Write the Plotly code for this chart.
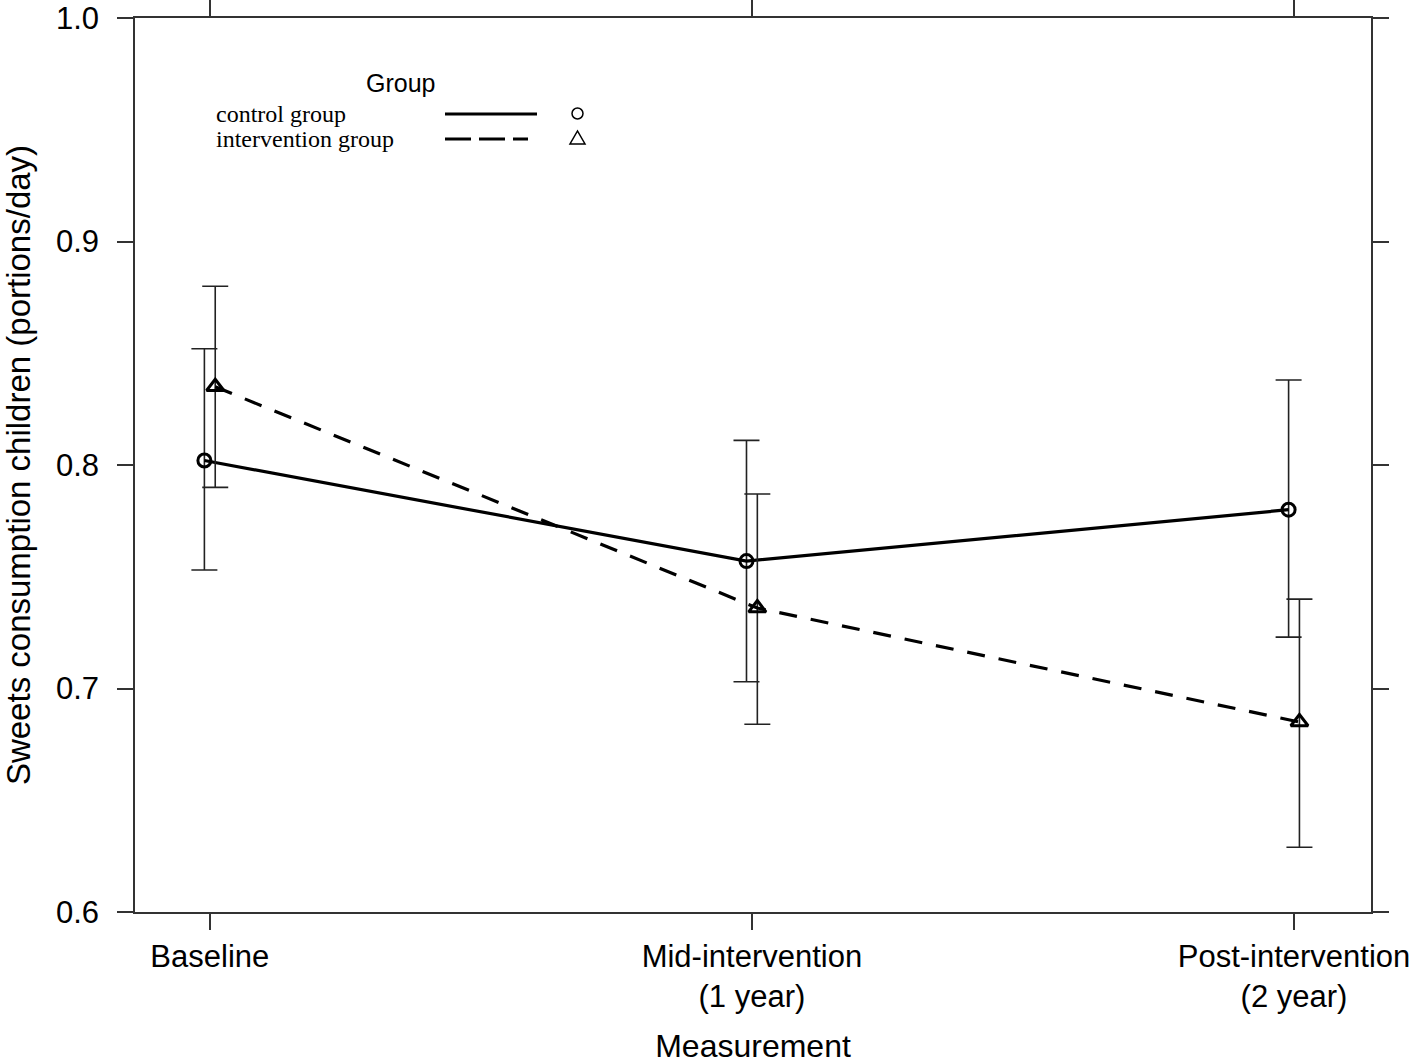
import plotly.graph_objects as go

categories = ["Baseline", "Mid-intervention<br>(1 year)", "Post-intervention<br>(2 year)"]
x_pos = [1, 2, 3]

control_mean = [0.802, 0.757, 0.780]
control_upper = [0.852, 0.811, 0.838]
control_lower = [0.753, 0.703, 0.723]

interv_mean = [0.835, 0.736, 0.685]
interv_upper = [0.880, 0.787, 0.740]
interv_lower = [0.790, 0.684, 0.629]

dodge = 0.01

W, H = 1418, 1064
L, R, T, B = 135, 47, 18, 152
PW, PH = W - L - R, H - T - B


def px(x):
    return (x - L) / PW


def py(y):
    return (H - B - y) / PH


fig = go.Figure()

err_style = dict(color="#222222", thickness=1.6, width=13)

fig.add_trace(go.Scatter(
    x=[v - dodge for v in x_pos], y=control_mean,
    mode="lines+markers",
    line=dict(color="black", width=3.2),
    marker=dict(symbol="circle-open", size=13, color="black", line=dict(width=3)),
    error_y=dict(type="data", symmetric=False,
                 array=[u - m for u, m in zip(control_upper, control_mean)],
                 arrayminus=[m - l for m, l in zip(control_mean, control_lower)],
                 **err_style),
    showlegend=False,
))

fig.add_trace(go.Scatter(
    x=[v + dodge for v in x_pos], y=interv_mean,
    mode="lines+markers",
    line=dict(color="black", width=3.2, dash="18px,14px"),
    marker=dict(symbol="triangle-up-open", size=15, color="black", line=dict(width=3)),
    error_y=dict(type="data", symmetric=False,
                 array=[u - m for u, m in zip(interv_upper, interv_mean)],
                 arrayminus=[m - l for m, l in zip(interv_mean, interv_lower)],
                 **err_style),
    showlegend=False,
))

# Manual legend (lattice-style key)
shapes = [
    dict(type="line", xref="paper", yref="paper", x0=px(445), x1=px(537), y0=py(114), y1=py(114),
         line=dict(color="black", width=3.2)),
    dict(type="line", xref="paper", yref="paper", x0=px(445), x1=px(528), y0=py(139), y1=py(139),
         line=dict(color="black", width=3.2, dash="26px,8px")),
    dict(type="circle", xref="paper", yref="paper", x0=px(572), x1=px(583), y0=py(108), y1=py(119),
         line=dict(color="black", width=1.5)),
    dict(type="path", xref="paper", yref="paper",
         path=f"M {px(570)} {py(144)} L {px(585)} {py(144)} L {px(577.5)} {py(131)} Z",
         line=dict(color="black", width=1.5)),
]

annotations = [
    dict(text="Group", x=px(400), y=py(83), xref="paper", yref="paper", showarrow=False,
         xanchor="center", yanchor="middle", font=dict(family="Liberation Sans", size=25, color="black")),
    dict(text="control group", x=px(214), y=py(114), xref="paper", yref="paper", showarrow=False,
         xanchor="left", yanchor="middle", font=dict(family="Liberation Serif", size=24, color="black")),
    dict(text="intervention group", x=px(214), y=py(139), xref="paper", yref="paper", showarrow=False,
         xanchor="left", yanchor="middle", font=dict(family="Liberation Serif", size=24, color="black")),
]

axis_common = dict(
    showline=True, linecolor="#333333", linewidth=1.5, mirror="ticks",
    ticks="outside", ticklen=16, tickwidth=1.5, tickcolor="#333333",
    showgrid=False, zeroline=False, automargin=False, ticklabeloverflow="allow",
)

fig.update_layout(
    width=W, height=H,
    margin=dict(l=L, r=R, t=T, b=B),
    paper_bgcolor="white", plot_bgcolor="white",
    shapes=shapes, annotations=annotations,
    xaxis=dict(range=[0.862, 3.142], tickvals=x_pos, ticktext=categories,
               tickfont=dict(family="Liberation Sans", size=31, color="black"),
               title=dict(text="Measurement", font=dict(family="Liberation Sans", size=32, color="black"),
                          standoff=26),
               **axis_common),
    yaxis=dict(range=[0.6, 1.0], tickvals=[0.6, 0.7, 0.8, 0.9, 1.0], tickformat=".1f",
               ticklabelstandoff=12,
               tickfont=dict(family="Liberation Sans", size=31, color="black"),
               title=dict(text="Sweets consumption children (portions/day)",
                          font=dict(family="Liberation Sans", size=33, color="black"), standoff=15),
               **axis_common),
)

fig.write_html("out.html", config={"displayModeBar": False},
               post_script="document.body.style.margin='0';")
